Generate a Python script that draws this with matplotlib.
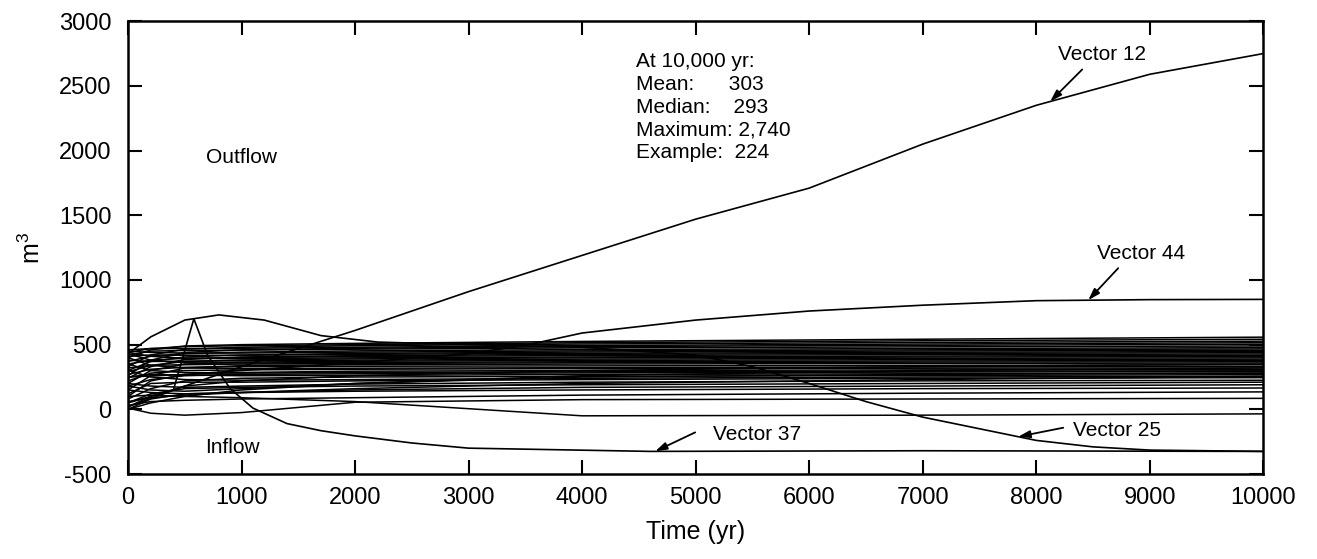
import numpy as np
import matplotlib
matplotlib.use('Agg')
import matplotlib.pyplot as plt

plt.rcParams['font.family'] = ['Liberation Sans', 'DejaVu Sans']
plt.rcParams['mathtext.fontset'] = 'custom'
plt.rcParams['mathtext.rm'] = 'Liberation Sans'
plt.rcParams['mathtext.default'] = 'regular'
plt.rcParams['axes.unicode_minus'] = False

# time grid for the bundle of ordinary vectors (yr)
bg_time = [0, 200, 500, 1000, 2000, 4000, 7000, 10000]
# cumulative brine flow (m3) of the ordinary vectors
bg_vectors = [
    [100, 110, 100, 90, 60, -50, -45, -35],
    [10, -30, -45, -25, 55, 75, 80, 85],
    [30, 60, 70, 80, 90, 110, 125, 135],
    [0, 80, 120, 130, 140, 150, 160, 165],
    [150, 130, 120, 130, 150, 170, 180, 190],
    [50, 120, 160, 170, 180, 190, 200, 210],
    [200, 180, 170, 180, 195, 210, 220, 225],
    [120, 200, 210, 210, 220, 230, 240, 245],
    [300, 250, 230, 225, 230, 240, 250, 255],
    [80, 160, 220, 240, 250, 255, 262, 268],
    [250, 270, 265, 260, 262, 270, 275, 280],
    [180, 230, 260, 270, 275, 282, 288, 292],
    [350, 300, 285, 280, 285, 290, 295, 298],
    [100, 220, 270, 285, 295, 300, 305, 308],
    [220, 280, 300, 305, 310, 315, 318, 320],
    [400, 340, 320, 315, 318, 322, 328, 332],
    [270, 310, 325, 330, 333, 336, 340, 345],
    [150, 260, 320, 338, 345, 350, 355, 358],
    [320, 340, 345, 350, 355, 360, 365, 368],
    [430, 380, 360, 358, 362, 368, 374, 378],
    [200, 300, 350, 365, 372, 378, 384, 388],
    [380, 370, 372, 375, 380, 388, 394, 398],
    [290, 340, 370, 382, 390, 398, 404, 408],
    [440, 410, 395, 392, 398, 405, 412, 418],
    [350, 380, 395, 400, 408, 416, 423, 428],
    [240, 330, 385, 405, 415, 425, 432, 438],
    [410, 420, 418, 418, 425, 433, 441, 447],
    [300, 370, 405, 420, 432, 443, 451, 457],
    [450, 440, 435, 435, 442, 452, 460, 467],
    [370, 410, 430, 442, 452, 462, 470, 477],
    [420, 450, 455, 458, 465, 475, 483, 490],
    [260, 380, 440, 460, 472, 485, 495, 503],
    [460, 470, 470, 472, 480, 493, 505, 515],
    [330, 420, 465, 480, 492, 505, 517, 527],
    [440, 470, 485, 492, 500, 515, 530, 542],
    [400, 460, 490, 500, 510, 525, 542, 558],
    [60, 90, 110, 130, 160, 200, 230, 255],
    [20, 100, 180, 220, 260, 300, 330, 350],
    [180, 150, 140, 160, 200, 260, 300, 320],
    [0, 50, 100, 150, 200, 250, 270, 280],
]

# labelled vectors
v12_time = [0, 500, 1000, 1500, 2000, 3000, 4000, 5000, 6000, 7000, 8000, 9000, 10000]
v12_vals = [20, 180, 330, 470, 610, 910, 1190, 1470, 1710, 2050, 2350, 2590, 2750]

v44_time = [0, 500, 1000, 2000, 3000, 3500, 4000, 5000, 6000, 7000, 8000, 9000, 10000]
v44_vals = [250, 270, 300, 360, 430, 495, 590, 690, 760, 805, 840, 848, 850]

v25_time = [0, 200, 500, 800, 1200, 1700, 2200, 3000, 4000, 5000, 5500, 6000,
            6500, 7000, 7500, 8000, 8500, 9000, 10000]
v25_vals = [430, 560, 690, 730, 690, 570, 520, 500, 480, 420, 330, 200,
            60, -60, -150, -240, -290, -315, -325]

v37_time = [0, 200, 400, 580, 700, 900, 1100, 1400, 1700, 2000, 2500, 3000, 4600, 7000, 10000]
v37_vals = [50, 100, 150, 700, 420, 160, 10, -110, -165, -205, -260, -300, -325, -320, -325]

stats_text = "At 10,000 yr:\nMean:      303\nMedian:    293\nMaximum: 2,740\nExample:  224"

fig = plt.figure(figsize=(13.17, 5.59), dpi=100)
ax = fig.add_axes([0.0972, 0.152, 0.862, 0.810])

for vals in bg_vectors:
    ax.plot(bg_time, vals, color='black', lw=1.1)
ax.plot(v12_time, v12_vals, color='black', lw=1.2)
ax.plot(v44_time, v44_vals, color='black', lw=1.2)
ax.plot(v25_time, v25_vals, color='black', lw=1.2)
ax.plot(v37_time, v37_vals, color='black', lw=1.2)

ax.set_xlim(0, 10000)
ax.set_ylim(-500, 3000)
ax.set_xticks(np.arange(0, 10001, 1000))
ax.set_yticks(np.arange(-500, 3001, 500))
ax.tick_params(direction='in', length=10, width=1.5, top=True, right=True,
               labelsize=17)
ax.tick_params(axis='x', pad=9)
ax.tick_params(axis='y', pad=12)
for sp in ax.spines.values():
    sp.set_linewidth(1.8)

ax.set_xlabel('Time (yr)', fontsize=18, labelpad=8)
ax.set_ylabel('m$^3$', fontsize=18, labelpad=10)

# annotations
ax.text(1004, 1945, 'Outflow', fontsize=15, ha='center', va='center')
ax.text(916, -295, 'Inflow', fontsize=15, ha='center', va='center')
ax.text(4476, 2760, stats_text, fontsize=15, ha='left', va='top', linespacing=1.25)

arrow = dict(arrowstyle='-|>,head_length=0.7,head_width=0.22', color='black', lw=1.3,
             shrinkA=0, shrinkB=0)
labels = [
    ('Vector 12', 8582, 2740, 8405, 2627, 8123, v12_time, v12_vals),
    ('Vector 44', 8925, 1203, 8722, 1091, 8458, v44_time, v44_vals),
    ('Vector 25', 8714, -160, 8238, -142, 7841, v25_time, v25_vals),
    ('Vector 37', 5542, -195, 4996, -178, 4643, v37_time, v37_vals),
]
for name, tx, ty, sx, sy, px, t, v in labels:
    ax.text(tx, ty, name, fontsize=15, ha='center', va='center')
    ax.annotate('', xy=(px, np.interp(px, t, v)), xytext=(sx, sy), arrowprops=arrow)

fig.savefig('out.png', dpi=100)
